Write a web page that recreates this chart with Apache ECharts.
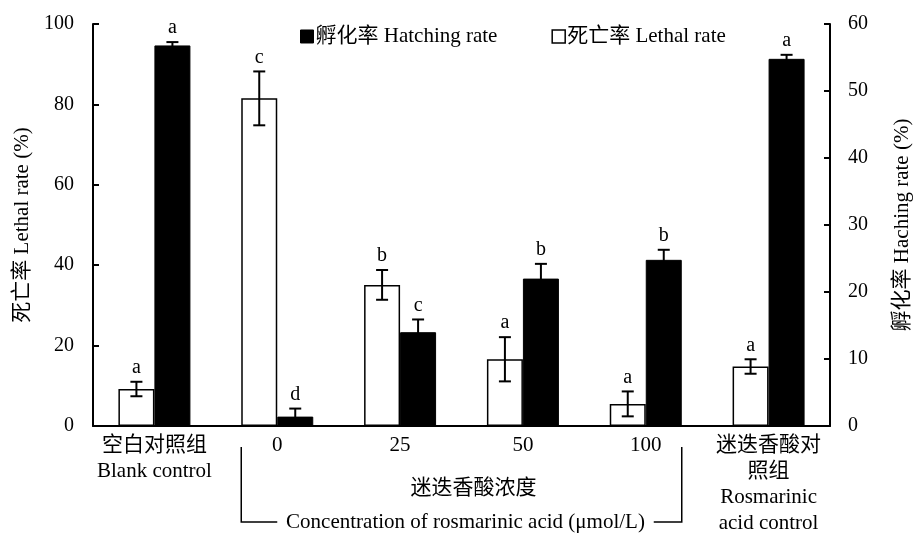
<!DOCTYPE html>
<html><head><meta charset="utf-8">
<script src="https://cdn.jsdelivr.net/npm/echarts@6/dist/echarts.min.js"></script>
<style>html,body{margin:0;padding:0;background:#fff}#c{width:916px;height:534px}</style>
</head><body><div id="c"></div>
<script>
const categories = ['空白对照组\nBlank control', '0', '25', '50', '100', '迷迭香酸对\n照组\nRosmarinic\nacid control'];
const lethal = [9.2, 81.5, 35.1, 16.6, 5.5, 14.8];
const lethalErr = [1.8, 6.7, 3.7, 5.5, 3.1, 1.8];
const lethalLetters = ['a', 'c', 'b', 'a', 'a', 'a'];
const hatching = [56.8, 1.4, 14.0, 22.0, 24.8, 54.8];
const hatchingErr = [0.5, 1.2, 1.9, 2.2, 1.5, 0.6];
const hatchingLetters = ['a', 'd', 'c', 'b', 'b', 'a'];
const leftTicks = [0, 100, 20];
const rightTicks = [0, 60, 10];

const FONT = '"Liberation Serif", "Noto Sans CJK SC", serif';
const FS = 21;
const BW = 36;

function errSeries(name, vals, errs, letters, yIdx, offset) {
  return {
    type: 'custom', name: name, yAxisIndex: yIdx, z: 5, silent: true,
    data: vals.map((v, i) => [i, v, errs[i], i]),
    renderItem: function (params, api) {
      const i = api.value(0), v = api.value(1), e = api.value(2);
      const top = api.coord([i, v + e]);
      const bot = api.coord([i, v - e]);
      const x = top[0] + offset;
      const cap = 6;
      const st = { stroke: '#000', lineWidth: 2 };
      return { type: 'group', children: [
        { type: 'line', shape: { x1: x, y1: top[1], x2: x, y2: bot[1] }, style: st },
        { type: 'line', shape: { x1: x - cap, y1: top[1], x2: x + cap, y2: top[1] }, style: st },
        { type: 'line', shape: { x1: x - cap, y1: bot[1], x2: x + cap, y2: bot[1] }, style: st },
        { type: 'text', style: { text: letters[api.value(3)], x: x, y: top[1] - 4, align: 'center', verticalAlign: 'bottom', font: '20px ' + FONT, fill: '#000' } }
      ]};
    }
  };
}

const chart = echarts.init(document.getElementById('c'), null, { renderer: 'canvas' });
const option = {
  animation: false,
  textStyle: { fontFamily: FONT, color: '#000' },
  grid: { left: 93, right: 86, top: 24, bottom: 108, containLabel: false, outerBoundsMode: 'none' },
  legend: {
    left: 295, top: 21, itemWidth: 13, itemHeight: 13, itemGap: 54,
    data: [
      { name: '孵化率 Hatching rate', icon: 'rect', itemStyle: { color: '#000', borderColor: '#000', borderWidth: 1 } },
      { name: '死亡率 Lethal rate', icon: 'rect', itemStyle: { color: '#fff', borderColor: '#000', borderWidth: 1.5 } }
    ],
    textStyle: { fontFamily: FONT, fontSize: FS, color: '#000', padding: [0, 0, 0, -3] }
  },
  xAxis: {
    type: 'category', data: categories,
    axisLine: { lineStyle: { color: '#000', width: 2 } },
    axisTick: { inside: true, length: 6, lineStyle: { color: '#000', width: 2 } },
    axisLabel: { fontFamily: FONT, fontSize: FS, color: '#000', lineHeight: 26, margin: 6, verticalAlign: 'top', interval: 0 }
  },
  yAxis: [
    {
      type: 'value', min: leftTicks[0], max: leftTicks[1], interval: leftTicks[2],
      name: '死亡率 Lethal rate (%)', nameLocation: 'middle', nameGap: 60, nameRotate: 90,
      nameTextStyle: { fontFamily: FONT, fontSize: FS, color: '#000' },
      axisLine: { show: true, lineStyle: { color: '#000', width: 2 } },
      axisTick: { show: true, inside: true, length: 6, lineStyle: { color: '#000', width: 2 } },
      axisLabel: { fontFamily: FONT, fontSize: 20, color: '#000', margin: 19 },
      splitLine: { show: false }
    },
    {
      type: 'value', min: rightTicks[0], max: rightTicks[1], interval: rightTicks[2],
      name: '孵化率 Haching rate (%)', nameLocation: 'middle', nameGap: 62, nameRotate: 90,
      nameTextStyle: { fontFamily: FONT, fontSize: FS, color: '#000' },
      axisLine: { show: true, lineStyle: { color: '#000', width: 2 } },
      axisTick: { show: true, inside: true, length: 6, lineStyle: { color: '#000', width: 2 } },
      axisLabel: { fontFamily: FONT, fontSize: 20, color: '#000', margin: 18 },
      splitLine: { show: false }
    }
  ],
  series: [
    { type: 'bar', name: '死亡率 Lethal rate', data: lethal, barWidth: BW, barGap: '0%', yAxisIndex: 0,
      itemStyle: { color: '#fff', borderColor: '#000', borderWidth: 1.5 } },
    { type: 'bar', name: '孵化率 Hatching rate', data: hatching, barWidth: BW, barGap: '0%', yAxisIndex: 1,
      itemStyle: { color: '#000', borderColor: '#000', borderWidth: 1 } },
    errSeries('errL', lethal, lethalErr, lethalLetters, 0, -BW / 2),
    errSeries('errH', hatching, hatchingErr, hatchingLetters, 1, BW / 2)
  ]
};
chart.setOption(option);

// bracket annotation below the concentration groups
const xL = chart.convertToPixel({ xAxisIndex: 0 }, 1) - BW;
const xR = chart.convertToPixel({ xAxisIndex: 0 }, 4) + BW;
const yTop = 447, yBot = 522;
const xMid = (xL + xR) / 2;
chart.setOption({
  graphic: [
    { type: 'text', style: { text: '迷迭香酸浓度', x: xMid + 12, y: 488, align: 'center', verticalAlign: 'middle', font: FS + 'px ' + FONT, fill: '#000' } },
    { type: 'text', style: { text: 'Concentration of rosmarinic acid (μmol/L)', x: xMid + 4, y: yBot, align: 'center', verticalAlign: 'middle', font: FS + 'px ' + FONT, fill: '#000' } },
    { type: 'polyline', shape: { points: [[xL, yTop], [xL, yBot], [xL + 36, yBot]] }, style: { stroke: '#000', lineWidth: 1.5, fill: null } },
    { type: 'polyline', shape: { points: [[xR - 28, yBot], [xR, yBot], [xR, yTop]] }, style: { stroke: '#000', lineWidth: 1.5, fill: null } }
  ]
});
</script></body></html>
